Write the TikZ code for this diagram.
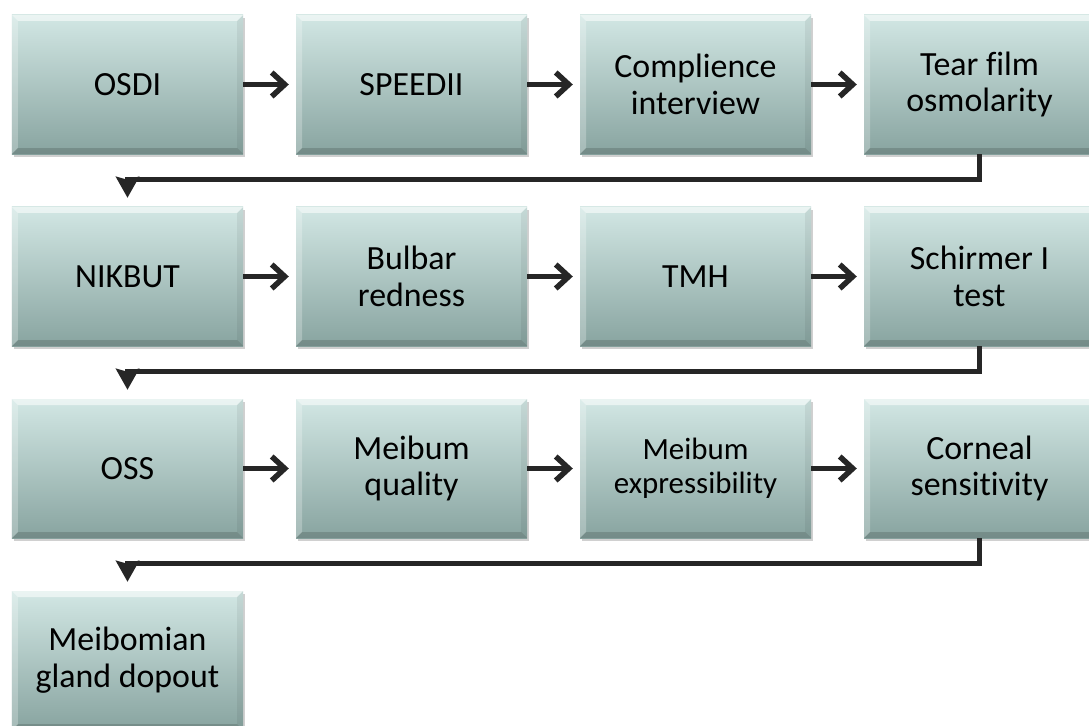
\documentclass[tikz,border=0pt]{standalone}
\usepackage{fontspec}
\setmainfont[Ligatures={NoCommon}]{Carlito}
\usetikzlibrary{arrows.meta,shadows,calc}
\definecolor{boxtop}{RGB}{210,231,228}
\definecolor{boxbot}{RGB}{136,164,160}
\definecolor{ink}{RGB}{38,38,38}
\tikzset{
  card/.style={minimum width=231bp, minimum height=139bp, inner sep=0pt, align=center,
    top color=boxtop, bottom color=boxbot, text=black,
    font=\fontsize{34}{37}\selectfont,
    drop shadow={opacity=0.3, shadow xshift=2bp, shadow yshift=-3bp, fill=black!60},
    path picture={
      \fill[white,opacity=0.55] (path picture bounding box.north west) -- (path picture bounding box.north east)
        -- ([xshift=-6bp,yshift=-6bp]path picture bounding box.north east) -- ([xshift=6bp,yshift=-6bp]path picture bounding box.north west) -- cycle;
      \fill[white,opacity=0.25] (path picture bounding box.north west) -- ([xshift=6bp,yshift=-6bp]path picture bounding box.north west)
        -- ([xshift=6bp,yshift=6bp]path picture bounding box.south west) -- (path picture bounding box.south west) -- cycle;
      \fill[black,opacity=0.06] (path picture bounding box.north east) -- ([xshift=-6bp,yshift=-6bp]path picture bounding box.north east)
        -- ([xshift=-6bp,yshift=6bp]path picture bounding box.south east) -- (path picture bounding box.south east) -- cycle;
      \fill[black,opacity=0.15] (path picture bounding box.south west) -- ([xshift=6bp,yshift=6bp]path picture bounding box.south west)
        -- ([xshift=-6bp,yshift=6bp]path picture bounding box.south east) -- (path picture bounding box.south east) -- cycle;
    }},
  flow/.style={draw=ink, line width=5.5bp, shorten >=7bp, -{Straight Barb[length=13bp,width=24bp]}},
  elbow/.style={draw=ink, line width=5bp, shorten >=9bp, -{Stealth[length=21bp,width=23bp,inset=3bp]}},
}
\begin{document}
\begin{tikzpicture}[x=1bp,y=-1bp]
\useasboundingbox (0,0) rectangle (1089,726);
\clip (0,0) rectangle (1089,726);
\fill[white] (0,0) rectangle (1089,726);
% row 1
\node[card] (r1c1) at (127.5,84.5) {OSDI};
\node[card] (r1c2) at (411.5,84.5) {SPEEDII};
\node[card] (r1c3) at (695.5,84.5) {Complience\\interview};
\node[card] (r1c4) at (979.5,84.5) {Tear film\\osmolarity};
% row 2
\node[card] (r2c1) at (127.5,276.5) {NIKBUT};
\node[card] (r2c2) at (411.5,276.5) {Bulbar\\redness};
\node[card] (r2c3) at (695.5,276.5) {TMH};
\node[card] (r2c4) at (979.5,276.5) {Schirmer I\\test};
% row 3
\node[card] (r3c1) at (127.5,468.5) {OSS};
\node[card] (r3c2) at (411.5,468.5) {Meibum\\quality};
\node[card, font=\fontsize{31}{34}\selectfont] (r3c3) at (695.5,468.5) {Meibum\\expressibility};
\node[card] (r3c4) at (979.5,468.5) {Corneal\\sensitivity};
% row 4
\node[card] (r4c1) at (127.5,660.5) {Meibomian\\gland dopout};
% connectors
\draw[flow] (r1c1.east) -- (r1c2.west);
\draw[flow] (r1c2.east) -- (r1c3.west);
\draw[flow] (r1c3.east) -- (r1c4.west);
\draw[flow] (r2c1.east) -- (r2c2.west);
\draw[flow] (r2c2.east) -- (r2c3.west);
\draw[flow] (r2c3.east) -- (r2c4.west);
\draw[flow] (r3c1.east) -- (r3c2.west);
\draw[flow] (r3c2.east) -- (r3c3.west);
\draw[flow] (r3c3.east) -- (r3c4.west);
\draw[elbow] (r1c4.south) |- ($(r2c1.north)+(0,-27)$) -- (r2c1.north);
\draw[elbow] (r2c4.south) |- ($(r3c1.north)+(0,-27)$) -- (r3c1.north);
\draw[elbow] (r3c4.south) |- ($(r4c1.north)+(0,-27)$) -- (r4c1.north);
\end{tikzpicture}
\end{document}
